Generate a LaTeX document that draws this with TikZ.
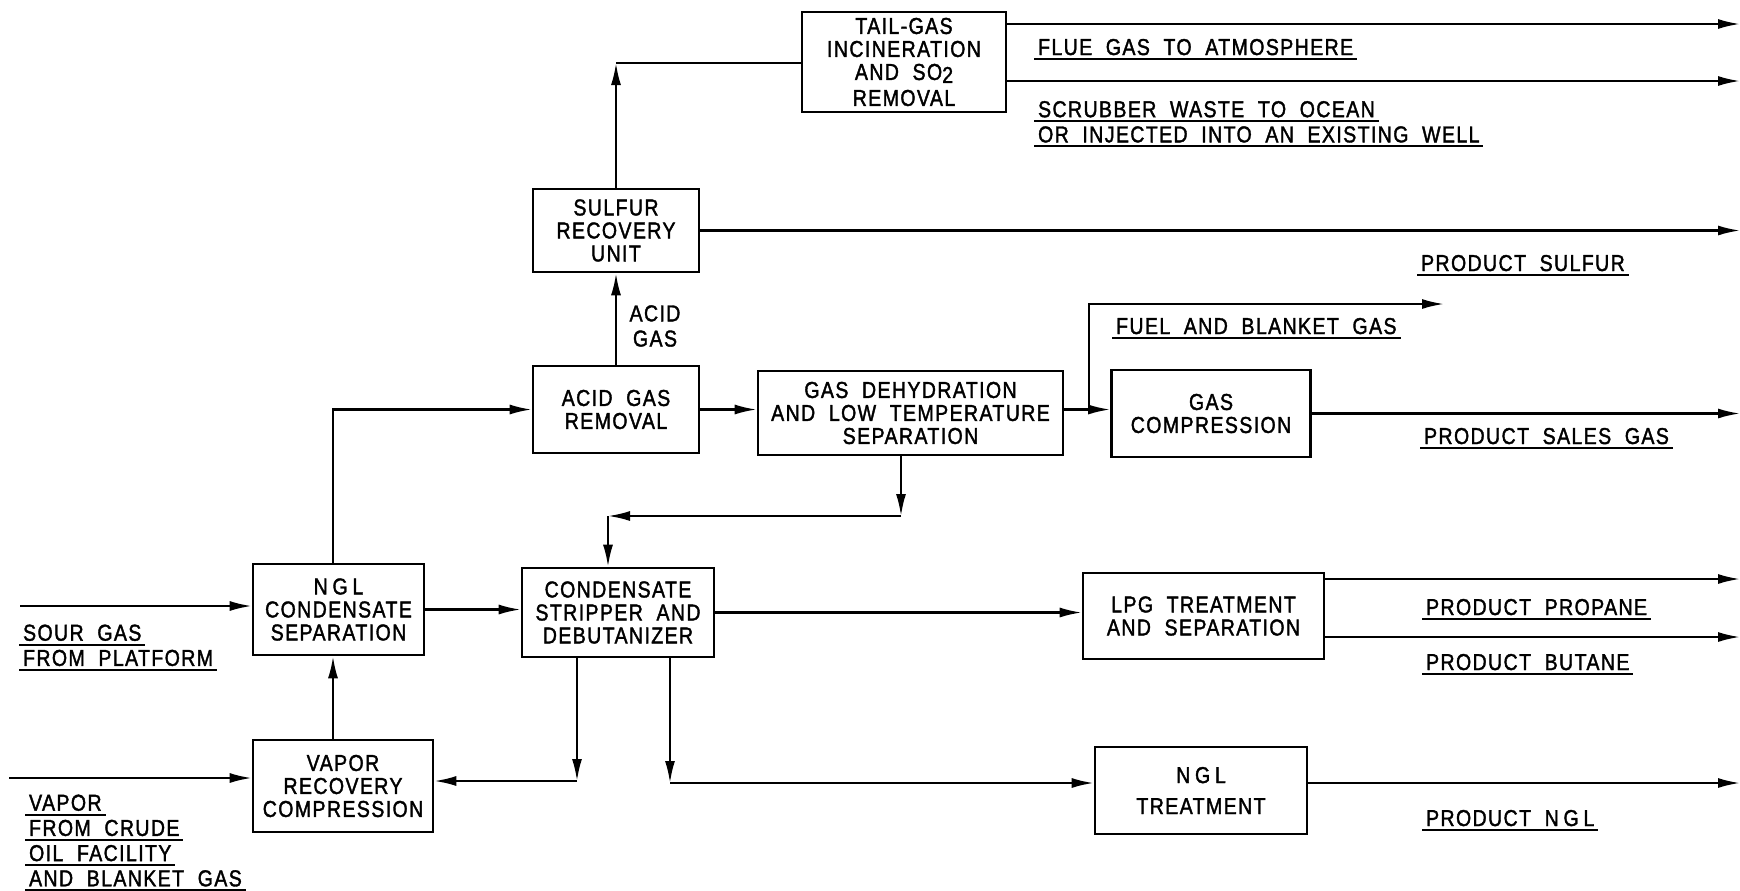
\documentclass[tikz,border=0pt]{standalone}
\usepackage{fontspec}
\setmainfont{Liberation Sans}[FakeStretch=0.85,LetterSpace=6,WordSpace=2,FakeBold=1.6]
\newfontfamily\nglfont{Liberation Sans}[FakeStretch=0.85,LetterSpace=6,WordSpace=0.7,FakeBold=1.6]
\usetikzlibrary{arrows.meta}

\newsavebox\lblbox
\newcommand{\ulbl}[1]{\sbox\lblbox{#1}\rlap{\kern-2pt\rule[-2.5pt]{\dimexpr\wd\lblbox+4pt\relax}{1pt}}\usebox\lblbox}
\newcommand{\ngltxt}{{\nglfont N G L}}

\begin{document}
\begin{tikzpicture}[x=0.5pt, y=-0.5pt, line width=1.1pt,
  unit/.style={draw, line width=1.3pt, align=center, inner sep=0pt, font=\fontsize{11.5}{11.5}\selectfont},
  flow/.style={-{Latex[length=11pt,width=5pt]}},
  lbl/.style={inner sep=0pt, align=left, font=\fontsize{11.5}{12.6}\selectfont}]
\useasboundingbox (0,0) rectangle (1740,890);

% process units
\node[unit, minimum width=102pt, minimum height=50pt] (tail) at (904,62) {TAIL-GAS\\INCINERATION\\AND SO\raisebox{-0.25ex}{2}\\[1.5pt]REMOVAL};
\node[unit, minimum width=83pt, minimum height=41.5pt] (sru) at (616,230.5) {SULFUR\\RECOVERY\\UNIT};
\node[unit, minimum width=83pt, minimum height=43.5pt] (agr) at (616,409.5) {ACID GAS\\REMOVAL};
\node[unit, minimum width=152.5pt, minimum height=42pt] (gdh) at (910.5,413) {GAS DEHYDRATION\\AND LOW TEMPERATURE\\SEPARATION};
\node[unit, minimum width=99.5pt, minimum height=43.5pt] (gcomp) at (1211,413.5) {GAS\\COMPRESSION};
\node[unit, minimum width=85.5pt, minimum height=45.5pt] (nglsep) at (338.5,609.5) {\ngltxt\\CONDENSATE\\SEPARATION};
\node[unit, minimum width=96pt, minimum height=44.5pt] (cstrip) at (618,612.5) {CONDENSATE\\STRIPPER AND\\DEBUTANIZER};
\node[unit, minimum width=120.5pt, minimum height=43pt] (lpg) at (1203.5,616) {LPG TREATMENT\\AND SEPARATION};
\node[unit, minimum width=90pt, minimum height=46pt] (vrc) at (343,786) {VAPOR\\RECOVERY\\COMPRESSION};
\node[unit, minimum width=106pt, minimum height=43.5pt] (ngltr) at (1201,790.5) {\ngltxt\\[4pt]TREATMENT};

% corners and free ends
\coordinate (redge) at (1740,0);
\coordinate (sourin) at (20,606);
\coordinate (vapin) at (9,778);
\coordinate (riser) at (333,0);
\coordinate (c1) at (616,63);
\coordinate (flueout) at (1740,24);
\coordinate (scrubout) at (1740,81);
\coordinate (split) at (1089,409.5);
\coordinate (fuelout) at (1444,304);
\coordinate (c2) at (901,516);
\coordinate (c3) at (608,516);
\coordinate (c4) at (577,781);
\coordinate (c5) at (670,783);
\coordinate (propout) at (1740,579);
\coordinate (butout) at (1740,637);
\coordinate (nglout) at (1740,783);

% feeds
\draw[flow] (sourin) -- (sourin -| nglsep.west);
\draw[flow] (vapin) -- (vapin -| vrc.west);
\draw[flow] (vrc.north -| riser) -- (nglsep.south -| riser);
\draw[flow] (nglsep.north -| riser) |- (agr.west);
\draw[flow] (nglsep.east) -- (nglsep.east -| cstrip.west);

% gas side
\draw[flow] (agr.north) -- (sru.south);
\draw[flow] (sru.north) -- (c1);
\draw (c1) -- (c1 -| tail.west);
\draw[flow] (flueout -| tail.east) -- (flueout);
\draw[flow] (scrubout -| tail.east) -- (scrubout);
\draw[flow] (sru.east) -- (sru.east -| redge);
\draw[flow] (agr.east) -- (agr.east -| gdh.west);
\draw[flow] (agr.east -| gdh.east) -- (agr.east -| gcomp.west);
\draw[flow] (split) |- (fuelout);
\draw[flow] (gcomp.east) -- (gcomp.east -| redge);

% liquid side
\draw[flow] (gdh.south -| c2) -- (c2);
\draw[flow] (c2) -- (c3);
\draw[flow] (c3) -- (c3 |- cstrip.north);
\draw[flow] (cstrip.south -| c4) -- (c4);
\draw[flow] (c4) -- (c4 -| vrc.east);
\draw[flow] (cstrip.south -| c5) -- (c5);
\draw[flow] (c5) -- (c5 -| ngltr.west);
\draw[flow] (cstrip.east) -- (cstrip.east -| lpg.west);
\draw[flow] (propout -| lpg.east) -- (propout);
\draw[flow] (butout -| lpg.east) -- (butout);
\draw[flow] (nglout -| ngltr.east) -- (nglout);

% stream labels
\node[lbl, anchor=center, align=center] (acidgas) at (655,326) {ACID\\GAS};
\node[lbl, anchor=base west] (flue) at (1037,55) {\ulbl{FLUE GAS TO ATMOSPHERE}};
\node[lbl, anchor=north west] (scrub) at (1037,100) {\ulbl{SCRUBBER WASTE TO OCEAN}\\\ulbl{OR INJECTED INTO AN EXISTING WELL}};
\node[lbl, anchor=base west] (sulfur) at (1420,271) {\ulbl{PRODUCT SULFUR}};
\node[lbl, anchor=base west] (fuel) at (1115,334) {\ulbl{FUEL AND BLANKET GAS}};
\node[lbl, anchor=base west] (sales) at (1423,444) {\ulbl{PRODUCT SALES GAS}};
\node[lbl, anchor=base west] (propane) at (1425,615) {\ulbl{PRODUCT PROPANE}};
\node[lbl, anchor=base west] (butane) at (1425,670) {\ulbl{PRODUCT BUTANE}};
\node[lbl, anchor=base west] (nglprod) at (1425,826) {\ulbl{PRODUCT \ngltxt}};
\node[lbl, anchor=north west] (sour) at (22,623.5) {\ulbl{SOUR GAS}\\\ulbl{FROM PLATFORM}};
\node[lbl, anchor=north west] (vapor) at (28,793.5) {\ulbl{VAPOR}\\\ulbl{FROM CRUDE}\\\ulbl{OIL FACILITY}\\\ulbl{AND BLANKET GAS}};
\end{tikzpicture}
\end{document}
